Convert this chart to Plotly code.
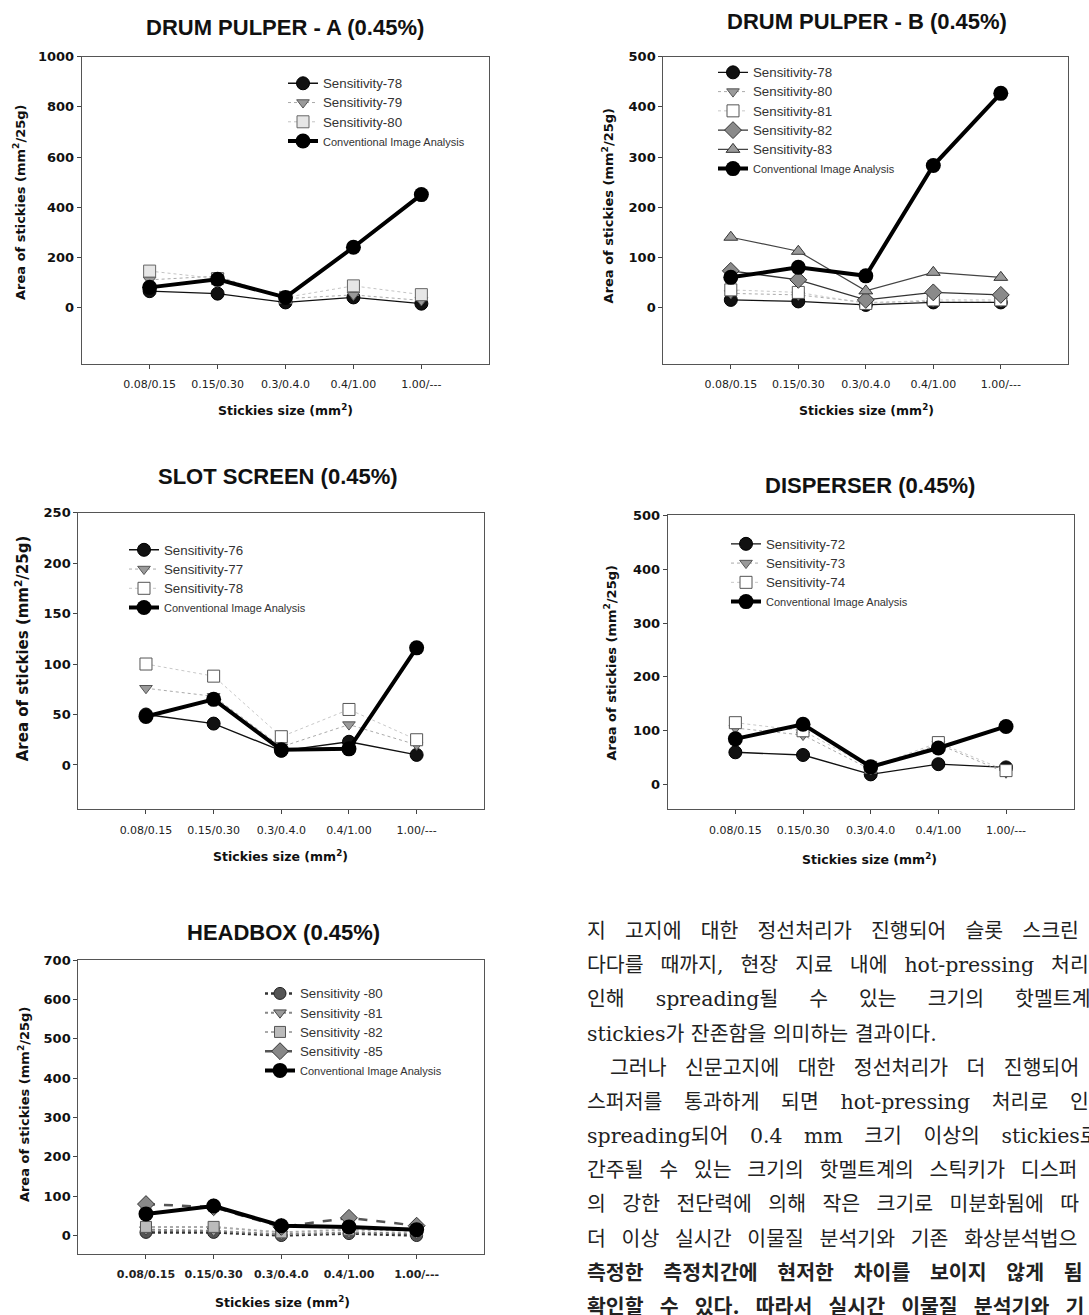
import plotly.graph_objects as go

W, H = 1089, 1315

# ---------------------------------------------------------------- data
categories = ["0.08/0.15", "0.15/0.30", "0.3/0.4.0", "0.4/1.00", "1.00/---"]
y_ticks_a = [0, 200, 400, 600, 800, 1000]
y_ticks_b = [0, 100, 200, 300, 400, 500]
y_ticks_slot = [0, 50, 100, 150, 200, 250]
y_ticks_disp = [0, 100, 200, 300, 400, 500]
y_ticks_head = [0, 100, 200, 300, 400, 500, 600, 700]

# DRUM PULPER - A
a_sens78 = [65, 55, 20, 40, 15]
a_sens79 = [110, 125, 35, 50, 28]
a_sens80 = [145, 115, 40, 86, 51]
a_conv = [80, 112, 40, 240, 450]

# DRUM PULPER - B
b_sens78 = [15, 12, 5, 10, 10]
b_sens80 = [28, 25, 10, 12, 12]
b_sens81 = [35, 30, 8, 15, 15]
b_sens82 = [73, 55, 15, 30, 25]
b_sens83 = [140, 112, 33, 70, 60]
b_conv = [60, 80, 63, 283, 427]

# SLOT SCREEN
s_sens76 = [50, 41, 14, 23, 10]
s_sens77 = [76, 68, 18, 40, 20]
s_sens78 = [100, 88, 28, 55, 25]
s_conv = [48, 65, 15, 16, 116]

# DISPERSER
d_sens72 = [60, 55, 19, 38, 32]
d_sens73 = [105, 92, 28, 75, 22]
d_sens74 = [115, 100, 32, 78, 26]
d_conv = [85, 112, 33, 68, 108]

# HEADBOX
h_sens80 = [8, 8, 0, 5, 0]
h_sens81 = [15, 12, 3, 8, 5]
h_sens82 = [22, 22, 8, 15, 12]
h_sens85 = [80, 72, 22, 45, 25]
h_conv = [55, 75, 25, 22, 15]

body_lines = [
    "지 고지에 대한 정선처리가 진행되어 슬롯 스크린",
    "다다를 때까지, 현장 지료 내에 hot-pressing 처리",
    "인해 spreading될 수 있는 크기의 핫멜트계",
    "stickies가 잔존함을 의미하는 결과이다.",
    "그러나 신문고지에 대한 정선처리가 더 진행되어",
    "스퍼저를 통과하게 되면 hot-pressing 처리로 인",
    "spreading되어 0.4 mm 크기 이상의 stickies로",
    "간주될 수 있는 크기의 핫멜트계의 스틱키가 디스퍼",
    "의 강한 전단력에 의해 작은 크기로 미분화됨에 따",
    "더 이상 실시간 이물질 분석기와 기존 화상분석법으",
    "측정한 측정치간에 현저한 차이를 보이지 않게 됨",
    "확인할 수 있다. 따라서 실시간 이물질 분석기와 기",
]

# ---------------------------------------------------------------- styles
CONV_NAME = '<span style="font-size:11px">Conventional Image Analysis</span>'


def sens_name(label):
    return '<span style="font-size:13.3px">%s</span>' % label


STYLES = {
    "circle": dict(mode="lines+markers",
                   line=dict(color="#111", width=1.4),
                   marker=dict(symbol="circle", size=13, color="#111",
                               line=dict(color="#000", width=1))),
    "tri_down": dict(mode="lines+markers",
                     line=dict(color="#aaa", width=1, dash="dot"),
                     marker=dict(symbol="triangle-down", size=11, color="#9a9a9a",
                                 line=dict(color="#555", width=1))),
    "square": dict(mode="lines+markers",
                   line=dict(color="#c4c4c4", width=1, dash="dot"),
                   marker=dict(symbol="square", size=12, color="#e6e6e6",
                               line=dict(color="#666", width=1))),
    "square_w": dict(mode="lines+markers",
                     line=dict(color="#c8c8c8", width=1, dash="dot"),
                     marker=dict(symbol="square", size=12, color="#ffffff",
                                 line=dict(color="#555", width=1))),
    "diamond": dict(mode="lines+markers",
                    line=dict(color="#333", width=1.3),
                    marker=dict(symbol="diamond", size=13, color="#8a8a8a",
                                line=dict(color="#333", width=1))),
    "tri_up": dict(mode="lines+markers",
                   line=dict(color="#444", width=1.2),
                   marker=dict(symbol="triangle-up", size=12, color="#9a9a9a",
                               line=dict(color="#333", width=1))),
    "conv": dict(mode="lines+markers",
                 line=dict(color="#000", width=4),
                 marker=dict(symbol="circle", size=15, color="#000")),
    # headbox series use broken line patterns
    "h_circle": dict(mode="lines+markers",
                     line=dict(color="#333", width=2.5, dash="dot"),
                     marker=dict(symbol="circle", size=12, color="#555",
                                 line=dict(color="#222", width=1))),
    "h_tri": dict(mode="lines+markers",
                  line=dict(color="#888", width=2, dash="dot"),
                  marker=dict(symbol="triangle-down", size=11, color="#999",
                              line=dict(color="#444", width=1))),
    "h_square": dict(mode="lines+markers",
                     line=dict(color="#aaa", width=2, dash="dot"),
                     marker=dict(symbol="square", size=11, color="#bbb",
                                 line=dict(color="#555", width=1))),
    "h_diamond": dict(mode="lines+markers",
                      line=dict(color="#555", width=2.5, dash="dash"),
                      marker=dict(symbol="diamond", size=13, color="#888",
                                  line=dict(color="#333", width=1))),
}

# panel: axis suffix, frame in px (left, right, top, bottom), y range,
# tick values, series, legend anchor (px), title, title centre, y-title centre, x-title centre
panels = [
    dict(ax="", frame=(81.7, 489.3, 50, 359), yr=(-226, 1000), ticks=y_ticks_a,
         series=[("Sensitivity-78", a_sens78, "circle"),
                 ("Sensitivity-79", a_sens79, "tri_down"),
                 ("Sensitivity-80", a_sens80, "square"),
                 (None, a_conv, "conv")],
         leg=(283, 62), title="DRUM PULPER - A (0.45%)", tpos=(284.5, 21),
         ytpos=(19, 197), ytsize=13, xtpos=(285, 405), xbold=False),
    dict(ax="2", frame=(663.3, 1068.3, 50, 359), yr=(-113, 500), ticks=y_ticks_b,
         series=[("Sensitivity-78", b_sens78, "circle"),
                 ("Sensitivity-80", b_sens80, "tri_down"),
                 ("Sensitivity-81", b_sens81, "square_w"),
                 ("Sensitivity-82", b_sens82, "diamond"),
                 ("Sensitivity-83", b_sens83, "tri_up"),
                 (None, b_conv, "conv")],
         leg=(713, 51), title="DRUM PULPER - B (0.45%)", tpos=(866.7, 15),
         ytpos=(607.5, 200), ytsize=13, xtpos=(866, 405), xbold=False),
    dict(ax="3", frame=(78.3, 484.3, 508.3, 806.7), yr=(-44, 250), ticks=y_ticks_slot,
         series=[("Sensitivity-76", s_sens76, "circle"),
                 ("Sensitivity-77", s_sens77, "tri_down"),
                 ("Sensitivity-78", s_sens78, "square_w"),
                 (None, s_conv, "conv")],
         leg=(124, 531), title="SLOT SCREEN (0.45%)", tpos=(277.5, 472.5),
         ytpos=(21.7, 645), ytsize=15, xtpos=(280, 854), xbold=False),
    dict(ax="4", frame=(667.7, 1073.7, 511, 806.7), yr=(-46, 500), ticks=y_ticks_disp,
         series=[("Sensitivity-72", d_sens72, "circle"),
                 ("Sensitivity-73", d_sens73, "tri_down"),
                 ("Sensitivity-74", d_sens74, "square_w"),
                 (None, d_conv, "conv")],
         leg=(726, 525), title="DISPERSER (0.45%)", tpos=(870, 481),
         ytpos=(611, 660), ytsize=13, xtpos=(869, 857), xbold=False),
    dict(ax="5", frame=(78.3, 484.3, 958.3, 1253.3), yr=(-46, 700), ticks=y_ticks_head,
         series=[("Sensitivity -80", h_sens80, "h_circle"),
                 ("Sensitivity -81", h_sens81, "h_tri"),
                 ("Sensitivity -82", h_sens82, "h_square"),
                 ("Sensitivity -85", h_sens85, "h_diamond"),
                 (None, h_conv, "conv")],
         leg=(260, 977), title="HEADBOX (0.45%)", tpos=(283, 930),
         ytpos=(24, 1104), ytsize=13, xtpos=(282.5, 1301.7), xbold=True),
]


def px_x(v):
    return v / W


def px_y(v):
    return 1 - v / H


fig = go.Figure()
layout = dict(width=W, height=H, margin=dict(l=0, r=0, t=0, b=0),
              paper_bgcolor="white", plot_bgcolor="white", showlegend=True)
annotations = []

xpos = list(range(len(categories)))
for i, p in enumerate(panels):
    ax = p["ax"]
    legend_key = "legend" + ("" if i == 0 else str(i + 1))
    for name, values, style in p["series"]:
        label = CONV_NAME if name is None else sens_name(name)
        fig.add_trace(go.Scatter(x=xpos, y=values, name=label,
                                 xaxis="x" + ax, yaxis="y" + ax,
                                 legend=legend_key, cliponaxis=False,
                                 **STYLES[style]))
    l, r, t, b = p["frame"]
    layout["xaxis" + ax] = dict(
        domain=[px_x(l), px_x(r)], range=[-1, 5], anchor="y" + ax,
        tickvals=xpos, ticktext=categories, ticks="outside", ticklen=4,
        tickcolor="#444", showgrid=False, zeroline=False,
        showline=True, mirror=True, linecolor="#555", linewidth=1,
        tickfont=dict(family="DejaVu Sans", size=11, color="#222",
                      weight="bold" if p["xbold"] else "normal"),
        ticklabelstandoff=6)
    layout["yaxis" + ax] = dict(
        domain=[px_y(b), px_y(t)], range=list(p["yr"]), anchor="x" + ax,
        tickvals=p["ticks"], ticks="outside", ticklen=4, tickcolor="#444",
        showgrid=False, zeroline=False, showline=True, mirror=True,
        linecolor="#555", linewidth=1,
        tickfont=dict(family="DejaVu Sans", size=13, color="#111", weight="bold"))
    lx, ly = p["leg"]
    layout[legend_key] = dict(
        x=px_x(lx), y=px_y(ly), xanchor="left", yanchor="top",
        bgcolor="rgba(0,0,0,0)", borderwidth=0, traceorder="normal",
        font=dict(family="Liberation Sans, Arial, sans-serif", size=12.5, color="#333"))
    tx, ty = p["tpos"]
    annotations.append(dict(text="<b>%s</b>" % p["title"], x=px_x(tx), y=px_y(ty),
                            xref="paper", yref="paper", showarrow=False,
                            xanchor="center", yanchor="middle",
                            font=dict(family="Liberation Sans, Arial, sans-serif",
                                      size=22, color="#111")))
    yx, yy = p["ytpos"]
    annotations.append(dict(text="<b>Area of stickies (mm<sup>2</sup>/25g)</b>",
                            x=px_x(yx), y=px_y(yy), xref="paper", yref="paper",
                            showarrow=False, textangle=-90,
                            xanchor="center", yanchor="middle",
                            font=dict(family="DejaVu Sans", size=p["ytsize"], color="#111")))
    xx, xy = p["xtpos"]
    annotations.append(dict(text="<b>Stickies size (mm<sup>2</sup>)</b>",
                            x=px_x(xx), y=px_y(xy), xref="paper", yref="paper",
                            showarrow=False, xanchor="center", yanchor="middle",
                            font=dict(family="DejaVu Sans", size=12.5, color="#111")))

# ---------------------------------------------------------------- body text
SERIF_W = {"a": .596, "b": .64, "c": .56, "d": .64, "e": .592, "f": .37, "g": .64,
           "h": .644, "i": .32, "k": .606, "l": .32, "m": .948, "n": .644, "o": .602,
           "p": .64, "r": .478, "s": .513, "t": .402, "u": .644, "-": .338,
           ".": .318, ",": .318, " ": .318}
BODY_SIZE = 20.5


def natural_width(s):
    w = 0.0
    for ch in s:
        if "\uac00" <= ch <= "\ud7a3":
            w += 1.0
        elif ch.isdigit():
            w += .636
        else:
            w += SERIF_W.get(ch, .6)
    return w * BODY_SIZE


body_left = 585
body_right = 1110
body_top = 929
body_pitch = 34.36
paragraph_starts = {4}
paragraph_ends = {3}
bold_lines = {10, 11}

for i, line in enumerate(body_lines):
    x0 = body_left + (23 if i in paragraph_starts else 0)
    spacing = 0.0
    n_sp = line.count(" ")
    if i not in paragraph_ends and n_sp:
        spacing = max(0.0, (body_right - x0 - natural_width(line)) / n_sp)
    txt = '<span style="word-spacing:%.1fpx">%s</span>' % (spacing, line)
    if i in bold_lines:
        txt = "<b>%s</b>" % txt
    annotations.append(dict(text=txt, x=px_x(x0), y=px_y(body_top + i * body_pitch),
                            xref="paper", yref="paper", showarrow=False,
                            xanchor="left", yanchor="middle",
                            font=dict(family="DejaVu Serif, Noto Sans CJK KR",
                                      size=BODY_SIZE, color="#222")))

layout["annotations"] = annotations
fig.update_layout(**layout)
fig.write_html("out.html", config={"displayModeBar": False})
